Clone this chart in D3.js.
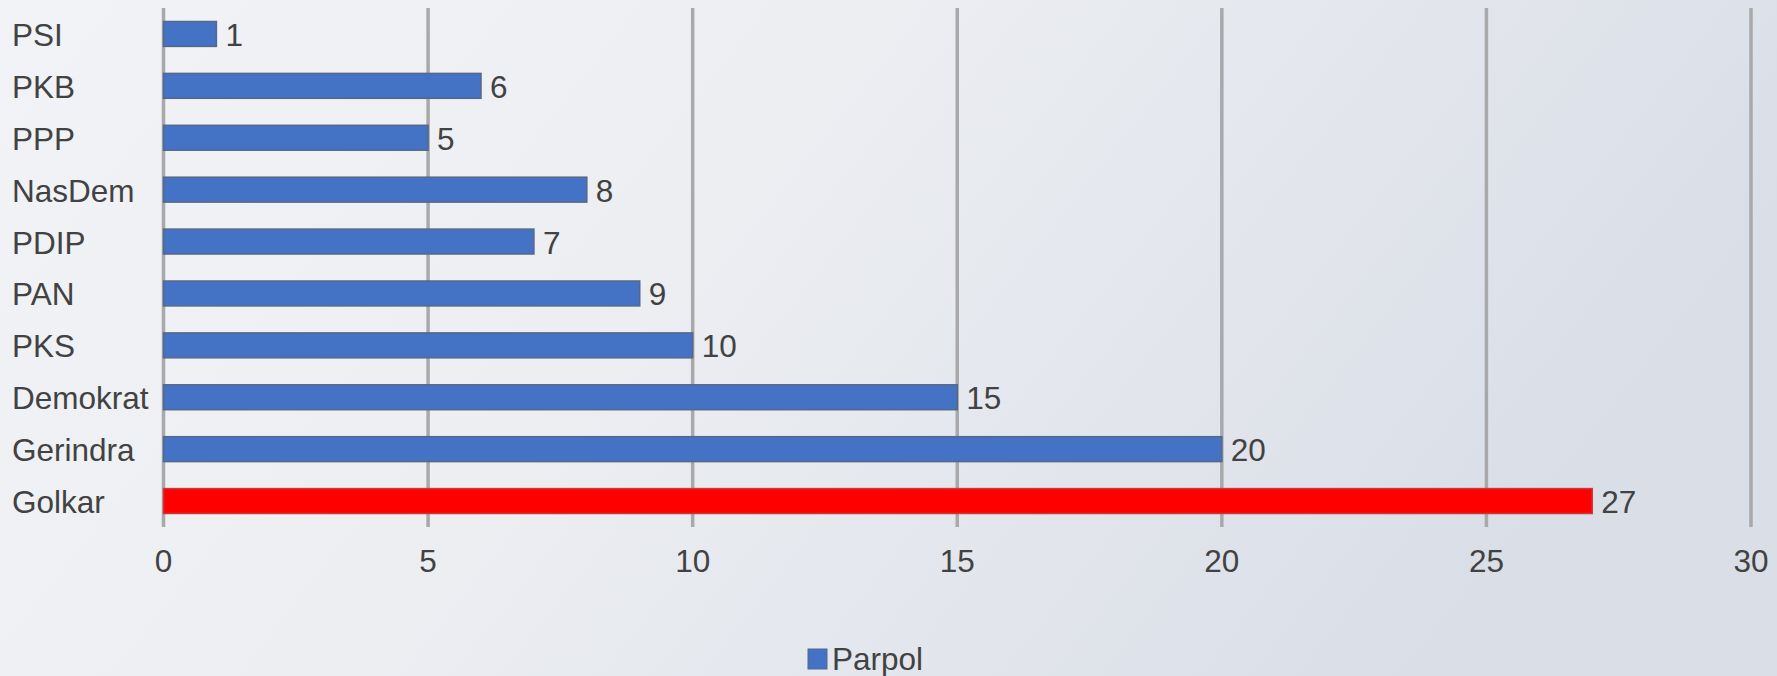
<!DOCTYPE html>
<style>
    body { margin: 0; }
    text {
        font-family: Arial, "Liberation Sans", sans-serif;
        font-size: 31.5px;
        fill: #424242;
    }
    .grid line { stroke: #a9a9ab; stroke-width: 3.5px; }
</style>
<body>
<script src="https://cdnjs.cloudflare.com/ajax/libs/d3/7.8.5/d3.min.js"></script>
<script>
var parties = ["PSI", "PKB", "PPP", "NasDem", "PDIP", "PAN", "PKS", "Demokrat", "Gerindra", "Golkar"];
var seats = [1, 6, 5, 8, 7, 9, 10, 15, 20, 27];
var ticks = [0, 5, 10, 15, 20, 25, 30];
var seriesName = "Parpol";
var highlight = "Golkar";

var width = 1777, height = 676;

var svg = d3.select("body").append("svg")
    .attr("width", width)
    .attr("height", height);

// background gradient
var defs = svg.append("defs");
var grad = defs.append("linearGradient").attr("id", "bg")
    .attr("x1", "0%").attr("y1", "0%").attr("x2", "100%").attr("y2", "30%");
grad.append("stop").attr("offset", "0%").attr("stop-color", "#f2f3f6");
grad.append("stop").attr("offset", "45%").attr("stop-color", "#eceef2");
grad.append("stop").attr("offset", "100%").attr("stop-color", "#dadee7");
svg.append("rect").attr("width", width).attr("height", height).attr("fill", "url(#bg)");

var x = d3.scaleLinear().domain([0, 30]).range([163.5, 1751]);
var y = d3.scaleBand().domain(parties).range([8, 527])
    .paddingInner(0.52).paddingOuter(0.26);

// vertical grid lines
svg.append("g").attr("class", "grid")
    .selectAll("line").data(ticks).enter().append("line")
    .attr("x1", function(d) { return x(d); })
    .attr("x2", function(d) { return x(d); })
    .attr("y1", 8)
    .attr("y2", 527);

// tick labels
svg.append("g").selectAll("text").data(ticks).enter().append("text")
    .attr("x", function(d) { return x(d); })
    .attr("y", 561)
    .attr("text-anchor", "middle")
    .attr("dominant-baseline", "central")
    .text(function(d) { return d; });

// bars
var data = parties.map(function(p, i) { return {party: p, value: seats[i]}; });
var bars = svg.append("g").selectAll("g").data(data).enter().append("g");

bars.append("rect")
    .attr("x", x(0))
    .attr("y", function(d) { return y(d.party); })
    .attr("width", function(d) { return x(d.value) - x(0); })
    .attr("height", y.bandwidth())
    .attr("fill", function(d) { return d.party === highlight ? "#ff0000" : "#4472c4"; })
    .attr("stroke", function(d) { return d.party === highlight ? "#c83a3a" : "#56688a"; })
    .attr("stroke-width", 1.5);

bars.append("text")
    .attr("x", function(d) { return x(d.value) + 9; })
    .attr("y", function(d) { return y(d.party) + y.bandwidth() / 2 + 1; })
    .attr("dominant-baseline", "central")
    .text(function(d) { return d.value; });

// category labels
svg.append("g").selectAll("text").data(parties).enter().append("text")
    .attr("x", 12)
    .attr("y", function(d) { return y(d) + y.bandwidth() / 2 + 1; })
    .attr("dominant-baseline", "central")
    .text(function(d) { return d; });

// legend
var legend = svg.append("g").attr("transform", "translate(808,649)");
legend.append("rect").attr("width", 19).attr("height", 20)
    .attr("fill", "#4472c4").attr("stroke", "#56688a").attr("stroke-width", 1);
legend.append("text").attr("x", 24).attr("y", 21).text(seriesName);
</script>
